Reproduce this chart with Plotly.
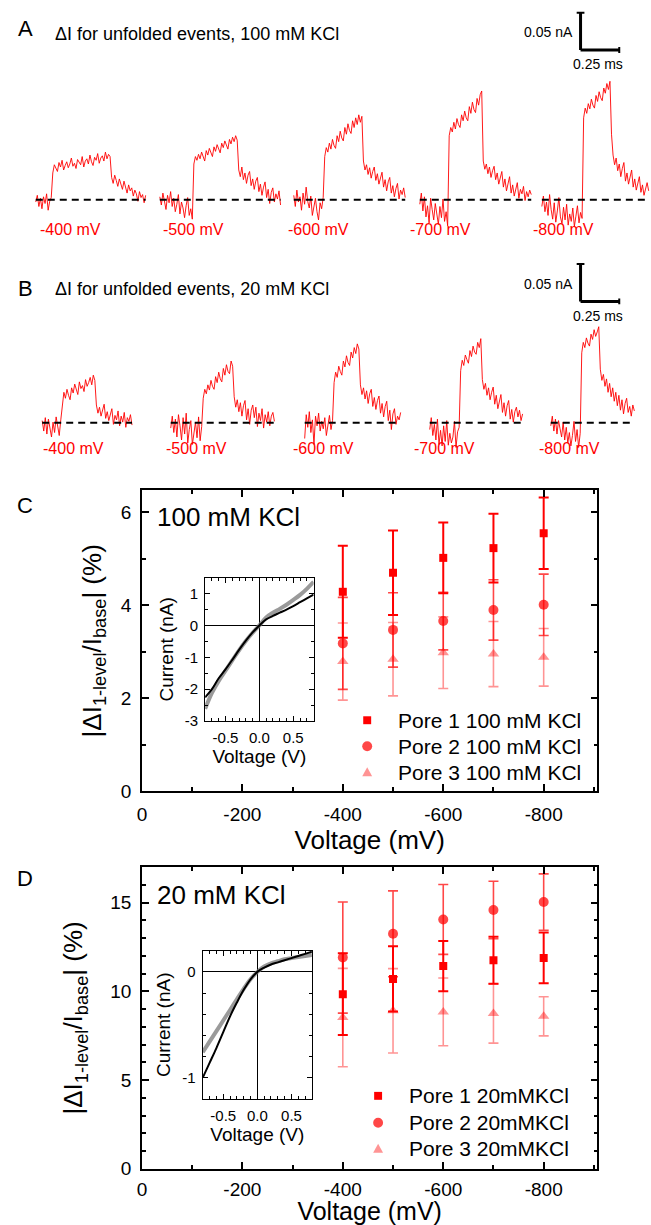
import plotly.graph_objects as go

# ======================= DATA =======================
# Panels A/B: single-event current traces, pA above the open-pore baseline,
# one sample every DT_MS milliseconds.
DT_MS = 0.01
trace_labels = ["-400 mV", "-500 mV", "-600 mV", "-700 mV", "-800 mV"]

a_400 = [-3, 6, -9, 2, -12, 4, -5, 8, -14, -2, 3,
         36, 47, 41, 38, 50, 44, 53, 40, 46, 51, 43, 48, 56, 45, 49, 42, 54, 50, 47, 58,
         44, 52, 55, 48, 60, 51, 46, 57, 53, 62, 49, 56, 59, 52, 64, 55, 61, 58,
         30, 22, 33, 26, 18, 28, 21, 14, 25, 17, 9, 20, 12, 16, 5, 13, 8, -2, 11, 3, 7, -4, 6]
a_500 = [4, -7, 9, -2, -13, 6, -4, 11, -9, 2, -16, -6, 7, -19, -3, -11, -24, -8, 3, -21, -12, -26,
         48, 58, 53, 61, 55, 64, 57, 52, 66, 60, 69, 62, 58, 71, 65, 74, 67, 63, 76, 70, 79, 72,
         68, 81, 75, 84, 78, 86, 80,
         40, 31, 44, 27, 36, 22, 33, 38, 19, 28, 14, 25, 30, 11, 21, 6, 17, 24, 3, 14, -5, 10,
         16, -3, 8, 1, 12, -7]
a_600 = [6, -9, 13, -3, 4, -14, 9, -6, 17, -2, -11, 5, -21, -7, 2, -16, -27, -4, -12, 3,
         58, 70, 64, 76, 68, 81, 73, 69, 86, 78, 92, 83, 79, 97, 88, 102, 93, 89, 106, 97,
         110, 101, 114, 104, 112,
         52, 40, 47, 34, 43, 29, 38, 44, 26, 35, 21, 31, 37, 17, 27, 12, 24, 30, 9, 19, 4, 15,
         22, 1, 13, 7, 16, 3]
a_700 = [-6, 9, -15, 4, -23, -8, -31, 2, -13, -27, -5, -18, -33, -9, -24, 1, -29, -16, -35,
         86, 97, 91, 104, 95, 109, 101, 97, 114, 106, 119, 110, 106, 125, 116, 131, 121, 117,
         136, 127, 141, 146,
         52, 41, 48, 35, 44, 30, 39, 45, 27, 36, 21, 32, 38, 17, 28, 12, 24, 31, 9, 20, 5, 16,
         23, 2, 14, 8, 18, -1, 11, 4, 13, 7]
a_800 = [-9, 5, -16, -3, -21, 7, -13, -26, -4, -30, -15, 3, -23, -32, -10, -27, -6, -34, -19,
         -29, -11, -36, -22, -8, -31, -17, -25,
         110, 123, 116, 129, 122, 135, 127, 123, 140, 132, 145, 137, 133, 150, 143, 156, 148, 159,
         88, 60, 47, 56, 39, 48, 31, 42, 50, 25, 36, 21, 33, 40, 17, 28, 13, 24, 31, 10, 20, 6,
         17, 23, 12]

b_400 = [3, -11, 7, -15, 5, -6, -19, 1, -13, 8, -4, -17, 4,
         28, 41, 33, 45, 37, 31, 47, 40, 52, 43, 38, 55, 46, 50, 42, 58, 49, 54, 61, 51, 64, 57,
         24, 13, 21, 9, 17, 25, 6, 15, 3, 12, 19, -2, 10, 4, 16, -4, 9, 1, 14, -6, 7, 2, 11, -3]
b_500 = [-7, 9, -13, 5, -19, 11, -4, -23, 7, -15, 13, -27, -9, 3, -29, -11, 1, -20, 8, -24, -5,
         33, 45, 39, 51, 44, 57, 49, 45, 62, 54, 68, 59, 55, 73, 64, 78, 69, 66, 83, 76,
         35, 21, 31, 15, 27, 9, 23, 30, 4, 19, -2, 17, 24, 7, 21, -5, 13, 3, 19, -7, 11, 1, 15,
         -4, 9, 14, 2]
b_600 = [-21, 11, -6, 15, -13, 4, -29, 9, -4, 13, -11, 2, -8, 7, -17, -2, 10, -9, 3,
         54, 68, 61, 76, 69, 64, 83, 75, 90, 81, 77, 95, 87, 101, 93, 106, 99,
         51, 38, 47, 32, 43, 26, 39, 45, 22, 34, 18, 30, 36, 13, 26, 8, 22, 29, 3, 17, -9, 12,
         19, -2, 9, 4, 14]
b_700 = [-9, 7, -17, -2, -23, 5, -29, -10, -31, -4, -25, 3, -30, -14, -27, -19, 2, -33, -12, -6,
         70, 84, 77, 91, 85, 80, 97, 89, 103, 95, 92, 108, 101, 113,
         58, 45, 53, 37, 47, 31, 41, 48, 25, 37, 19, 31, 38, 14, 27, 9, 23, 30, 5, 18, 1, 15,
         21, 8, 17, 3, 12]
b_800 = [-4, 9, -11, 5, -15, 3, -8, -19, 1, -23, -6, -27, -13, -31, -17, 2, -25, -9, -33, -14,
         94, 108, 101, 114, 107, 103, 119, 112, 125, 116, 122, 129,
         72, 57, 65, 49, 59, 41, 53, 35, 47, 29, 41, 23, 37, 17, 31, 12, 26, 33, 14, 22, 9, 24, 16]

# Panels C/D: relative blockade |dI/I_base| (%) vs voltage
voltages_mv = [-400, -500, -600, -700, -800]
x_tick_vals = [0, -200, -400, -600, -800]
x_tick_text = ["0", "-200", "-400", "-600", "-800"]

c_pore1 = [4.29, 4.70, 5.02, 5.23, 5.55]
c_pore1_err = [0.99, 0.91, 0.76, 0.74, 0.77]
c_pore2 = [3.18, 3.47, 3.66, 3.90, 4.01]
c_pore2_err = [0.99, 0.80, 0.62, 0.65, 0.66]
c_pore3 = [2.79, 2.84, 2.98, 2.95, 2.88]
c_pore3_err = [0.83, 0.79, 0.77, 0.70, 0.62]

d_pore1 = [9.84, 10.70, 11.42, 11.75, 11.88]
d_pore1_err = [2.30, 1.84, 1.42, 1.33, 1.43]
d_pore2 = [11.90, 13.24, 14.05, 14.58, 15.03]
d_pore2_err = [3.13, 2.42, 1.97, 1.62, 1.59]
d_pore3 = [8.52, 8.90, 8.84, 8.75, 8.59]
d_pore3_err = [2.77, 2.38, 1.91, 1.67, 1.10]

c_names = ["Pore 1 100 mM KCl", "Pore 2 100 mM KCl", "Pore 3 100 mM KCl"]
d_names = ["Pore 1 20mMKCl", "Pore 2 20mMKCl", "Pore 3 20mMKCl"]

# Insets: I-V curves (nA vs V)
iv_voltage = [-0.8, -0.7, -0.6, -0.5, -0.4, -0.3, -0.2, -0.1, 0.0,
              0.1, 0.2, 0.3, 0.4, 0.5, 0.6, 0.7, 0.8]
c_iv_black = [-2.26, -2.00, -1.66, -1.38, -1.08, -0.77, -0.48, -0.22, 0.0,
              0.19, 0.30, 0.40, 0.50, 0.61, 0.73, 0.85, 0.97]
c_iv_gray = [-2.62, -2.12, -1.74, -1.42, -1.10, -0.78, -0.49, -0.23, 0.0,
             0.25, 0.40, 0.52, 0.65, 0.80, 0.96, 1.15, 1.37]
d_iv_black = [-1.00, -0.86, -0.72, -0.57, -0.42, -0.29, -0.17, -0.07, 0.0,
              0.04, 0.07, 0.09, 0.11, 0.13, 0.15, 0.17, 0.19]
d_iv_gray = [-0.76, -0.66, -0.56, -0.46, -0.36, -0.26, -0.16, -0.07, 0.0,
             0.05, 0.08, 0.10, 0.12, 0.13, 0.14, 0.15, 0.16]

# ======================= LAYOUT CONSTANTS =======================
W, H = 651, 1225
KY = 1.008          # vertical placement correction
FONT = "Liberation Sans, Arial, sans-serif"
PX_PER_MS = 156.0
PX_PER_PA = 0.746 * KY
SCALE_I_PA = 50     # 0.05 nA
SCALE_T_MS = 0.25

a_starts_px = [31, 156, 291, 418, 541]
b_starts_px = [37.5, 167, 302, 428, 550]
a_label_px = [33, 157, 283, 406, 530]
b_label_px = [36, 160, 288, 410, 536]

RED1 = "rgb(255,0,0)"
RED2 = "rgba(255,0,0,0.72)"
RED3 = "rgba(255,0,0,0.42)"


def fx(px):
    return px / W


def fy(py):
    return 1 - py * KY / H


def py_k(py):
    return py * KY


fig = go.Figure()


def add_trace_panel(traces, starts, xa, ya):
    for vals, s in zip(traces, starts):
        t0 = s / PX_PER_MS
        t = [t0 + i * DT_MS for i in range(len(vals))]
        fig.add_trace(go.Scatter(x=t, y=vals, mode="lines",
                                 line=dict(color="rgb(255,0,0)", width=0.9),
                                 xaxis=xa, yaxis=ya, showlegend=False, hoverinfo="skip"))
        fig.add_trace(go.Scatter(x=[t[0], t[-1]], y=[0, 0], mode="lines",
                                 line=dict(color="black", width=2, dash="7px,5px"),
                                 xaxis=xa, yaxis=ya, showlegend=False, hoverinfo="skip"))


add_trace_panel([a_400, a_500, a_600, a_700, a_800], a_starts_px, "x", "y")
add_trace_panel([b_400, b_500, b_600, b_700, b_800], b_starts_px, "x2", "y2")

shapes = []


def scale_bar(xref, yref, x0, y0):
    kw = dict(type="line", xref=xref, yref=yref, line=dict(color="black", width=3))
    shapes.append(dict(x0=x0, x1=x0, y0=y0, y1=y0 + SCALE_I_PA, **kw))
    shapes.append(dict(x0=x0, x1=x0 + SCALE_T_MS, y0=y0, y1=y0, **kw))
    cap = dict(type="line", xref=xref, yref=yref, line=dict(color="black", width=2))
    shapes.append(dict(x0=x0 - 0.025, x1=x0 + 0.025, y0=y0 + SCALE_I_PA, y1=y0 + SCALE_I_PA, **cap))
    shapes.append(dict(x0=x0 + SCALE_T_MS, x1=x0 + SCALE_T_MS, y0=y0 - 4, y1=y0 + 4, **cap))


A_BASE, B_BASE = 200, 423.3
scale_bar("x", "y", 580 / PX_PER_MS, (A_BASE - 50) / 0.746)
scale_bar("x2", "y2", 580 / PX_PER_MS, (B_BASE - 301.7) / 0.746)

# ---- scatter panels ----
SPECS = [("square", 8, RED1, 2.0), ("circle", 10, RED2, 1.6), ("triangle-up", 10, RED3, 1.6)]


def add_pores(vals, errs, names, xa, ya):
    for k in [2, 1, 0]:
        sym, size, col, th = SPECS[k]
        fig.add_trace(go.Scatter(
            x=voltages_mv, y=vals[k], mode="markers", name=names[k],
            marker=dict(symbol=sym, size=size, color=col, line=dict(width=0)),
            error_y=dict(type="data", array=errs[k], color=col, thickness=th, width=5),
            xaxis=xa, yaxis=ya, showlegend=False))


add_pores([c_pore1, c_pore2, c_pore3], [c_pore1_err, c_pore2_err, c_pore3_err], c_names, "x3", "y3")
add_pores([d_pore1, d_pore2, d_pore3], [d_pore1_err, d_pore2_err, d_pore3_err], d_names, "x5", "y5")

for gray, black, xa, ya in [(c_iv_gray, c_iv_black, "x4", "y4"), (d_iv_gray, d_iv_black, "x6", "y6")]:
    fig.add_trace(go.Scatter(x=iv_voltage, y=gray, mode="lines",
                             line=dict(color="rgba(120,120,120,0.75)", width=4, shape="spline"),
                             xaxis=xa, yaxis=ya, showlegend=False, hoverinfo="skip"))
    fig.add_trace(go.Scatter(x=iv_voltage, y=black, mode="lines",
                             line=dict(color="black", width=2, shape="spline"),
                             xaxis=xa, yaxis=ya, showlegend=False, hoverinfo="skip"))

# ---- axes ----
hidden = dict(visible=False, showgrid=False, zeroline=False, fixedrange=True)

main_common = dict(showline=True, linecolor="black", linewidth=1.5, mirror="allticks",
                   ticks="inside", ticklen=7, tickwidth=1.5, tickcolor="black",
                   showgrid=False, zeroline=False, tickfont=dict(size=19, color="black", family=FONT))
inset_common = dict(showline=True, linecolor="black", linewidth=1.2, mirror="allticks",
                    ticks="inside", ticklen=5, tickwidth=1.2, tickcolor="black",
                    showgrid=False, zeroline=True, zerolinecolor="black", zerolinewidth=1,
                    tickfont=dict(size=15, color="black", family=FONT), ticklabelstandoff=3)

x_minor = dict(ticks="inside", ticklen=4, tickwidth=1.5, tickmode="linear", tick0=0, dtick=100,
               tickcolor="black")
x_main_c = dict(range=[0, -907], tickmode="array", tickvals=x_tick_vals, ticktext=x_tick_text,
                minor=x_minor, ticklabelstandoff=5,
                title=dict(text="Voltage (mV)", font=dict(size=26, family=FONT, color="black"), standoff=3),
                **main_common)
x_main_d = dict(range=[0, -907], tickmode="array", tickvals=x_tick_vals, ticktext=x_tick_text,
                minor=x_minor, ticklabelstandoff=3,
                title=dict(text="Voltage (mV)", font=dict(size=25, family=FONT, color="black"), standoff=5),
                **main_common)
ytitle = "|ΔI<sub>1-level</sub>/I<sub>base</sub>| (%)"

x_inset = dict(range=[-0.8, 0.8], tickmode="array", tickvals=[-0.5, 0, 0.5], ticktext=["-0.5", "0.0", "0.5"],
               minor=dict(ticks="inside", ticklen=3, tickwidth=1, tickmode="linear", tick0=0, dtick=0.1,
                          tickcolor="black"),
               title=dict(text="Voltage (V)", font=dict(size=19, family=FONT, color="black"), standoff=3),
               **inset_common)

fig.update_layout(
    width=W, height=H, margin=dict(l=0, r=0, t=0, b=0),
    paper_bgcolor="white", plot_bgcolor="rgba(0,0,0,0)",
    font=dict(family=FONT, color="black"),
    showlegend=False,
    xaxis=dict(domain=[0, 1], range=[0, W / PX_PER_MS], **hidden),
    yaxis=dict(domain=[fy(245), fy(5)],
               range=[py_k(A_BASE - 245) / PX_PER_PA, py_k(A_BASE - 5) / PX_PER_PA], **hidden),
    xaxis2=dict(domain=[0, 1], range=[0, W / PX_PER_MS], **hidden),
    yaxis2=dict(domain=[fy(460), fy(255)],
                range=[py_k(B_BASE - 460) / PX_PER_PA, py_k(B_BASE - 255) / PX_PER_PA], **hidden),
    xaxis3=dict(domain=[fx(138), fx(597)], anchor="y3", **x_main_c),
    yaxis3=dict(domain=[fy(792), fy(491)], anchor="x3", range=[0, 6.47], tick0=0, dtick=2,
                minor=dict(ticks="inside", ticklen=4, tickwidth=1.5, tick0=0, dtick=1, tickcolor="black"),
                ticklabelstandoff=5,
                title=dict(text=ytitle, font=dict(size=26, family=FONT, color="black"), standoff=12),
                **main_common),
    xaxis4=dict(domain=[fx(201.7), fx(311)], anchor="y4", **x_inset),
    yaxis4=dict(domain=[fy(721.7), fy(578.3)], anchor="x4", range=[-3, 1.5], tickmode="array",
                tickvals=[-3, -2, -1, 0, 1], ticktext=["-3", "-2", "-1", "0", "1"],
                minor=dict(ticks="inside", ticklen=3, tickwidth=1, tickmode="linear", tick0=0, dtick=0.5,
                           tickcolor="black"),
                title=dict(text="Current (nA)", font=dict(size=19, family=FONT, color="black"), standoff=6),
                **inset_common),
    xaxis5=dict(domain=[fx(138), fx(597)], anchor="y5", **x_main_d),
    yaxis5=dict(domain=[fy(1170), fy(868)], anchor="x5", range=[0, 17], tick0=0, dtick=5,
                minor=dict(ticks="inside", ticklen=4, tickwidth=1.5, tick0=0, dtick=1, tickcolor="black"),
                ticklabelstandoff=5,
                title=dict(text=ytitle, font=dict(size=26, family=FONT, color="black"), standoff=20),
                **main_common),
    xaxis6=dict(domain=[fx(199.3), fx(309.3)], anchor="y6", **x_inset),
    yaxis6=dict(domain=[fy(1100), fy(951.7)], anchor="x6", range=[-1.2, 0.2], tickmode="array",
                tickvals=[-1, 0], ticktext=["-1", "0"],
                minor=dict(ticks="inside", ticklen=3, tickwidth=1, tickmode="linear", tick0=0, dtick=0.2,
                           tickcolor="black"),
                title=dict(text="Current (nA)", font=dict(size=19, family=FONT, color="black"), standoff=6),
                **inset_common),
)

ann = []


def text(s, px, py, size, color="black", xanchor="left"):
    ann.append(dict(text=s, x=fx(px), y=fy(py), xref="paper", yref="paper", xanchor=xanchor,
                    yanchor="middle", showarrow=False, font=dict(size=size, color=color, family=FONT)))


# manual legends (symbol keys + text)
def legend_block(names, x_sym, x_text, rows):
    for k, (name, py) in enumerate(zip(names, rows)):
        sym, size, col, _ = SPECS[k]
        yc = 1 - py * KY / H
        dy = 1.0 / H
        if sym == "square":
            shapes.append(dict(type="rect", xref="paper", yref="paper", x0=fx(x_sym - 4), x1=fx(x_sym + 4),
                               y0=yc - 4 * dy, y1=yc + 4 * dy, fillcolor=col, line=dict(width=0)))
        elif sym == "circle":
            shapes.append(dict(type="circle", xref="paper", yref="paper", x0=fx(x_sym - 5), x1=fx(x_sym + 5),
                               y0=yc - 5 * dy, y1=yc + 5 * dy, fillcolor=col, line=dict(width=0)))
        else:
            path = "M {:.5f},{:.5f} L {:.5f},{:.5f} L {:.5f},{:.5f} Z".format(
                fx(x_sym - 5), yc - 4 * dy, fx(x_sym + 5), yc - 4 * dy, fx(x_sym), yc + 5 * dy)
            shapes.append(dict(type="path", xref="paper", yref="paper", path=path, fillcolor=col,
                               line=dict(width=0)))
        text(name, x_text, py, 21)


legend_block(c_names, 365, 394, [721, 747, 773])
legend_block(d_names, 376, 405, [1097, 1124, 1150])

text("A", 11, 29, 22)
text("ΔI for unfolded events, 100 mM KCl", 48, 34, 18)
text("B", 11, 289, 22)
text("ΔI for unfolded events, 20 mM KCl", 48, 289, 18)
text("0.05 nA", 574, 32, 14, xanchor="right")
text("0.25 ms", 598, 64, 14, xanchor="center")
text("0.05 nA", 574, 284, 14, xanchor="right")
text("0.25 ms", 598, 316, 14, xanchor="center")
for lab, px in zip(trace_labels, a_label_px):
    text(lab, px, 230, 16, color="rgb(255,0,0)")
for lab, px in zip(trace_labels, b_label_px):
    text(lab, px, 449, 16, color="rgb(255,0,0)")
text("C", 10, 506, 22)
text("D", 10, 879, 22)
text("100 mM KCl", 151, 518, 26)
text("20 mM KCl", 151, 896, 26)
fig.update_layout(annotations=ann, shapes=shapes)

POST = ("var d=document.getElementById('{plot_id}');"
        "document.documentElement.style.margin='0';document.documentElement.style.padding='0';"
        "document.documentElement.style.overflow='hidden';"
        "document.body.style.margin='0';document.body.style.padding='0';document.body.style.overflow='hidden';"
        "d.style.display='block';if(d.parentElement){d.parentElement.style.display='block';"
        "d.parentElement.style.height='1225px';d.parentElement.style.overflow='hidden';}")

fig.write_html("out.html", config={"displayModeBar": False}, post_script=POST)
